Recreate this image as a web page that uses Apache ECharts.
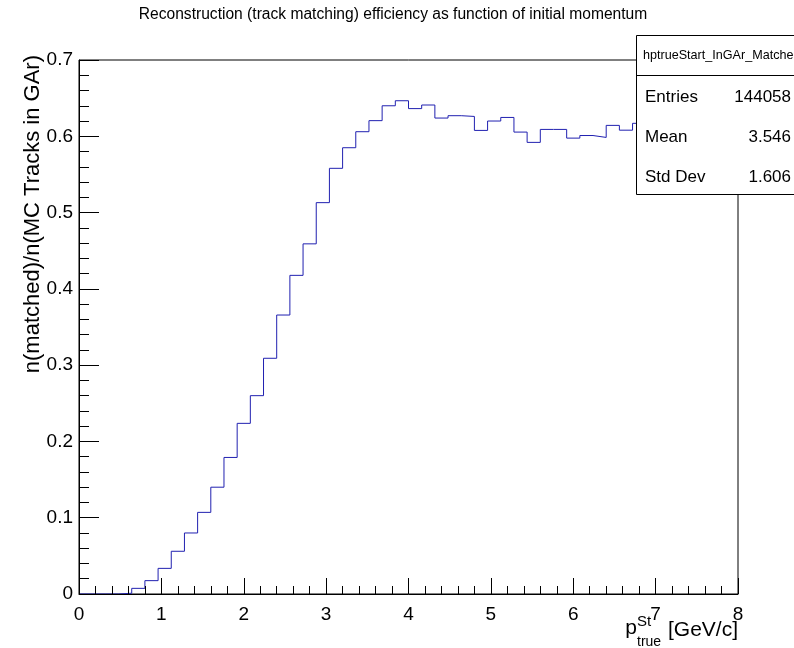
<!DOCTYPE html>
<html>
<head>
<meta charset="utf-8">
<script src="https://cdn.jsdelivr.net/npm/echarts@6/dist/echarts.min.js"></script>
<style>
html,body{margin:0;padding:0;background:#fff;}
#chart{width:794px;height:648px;}
</style>
</head>
<body>
<div id="chart"></div>
<script>
// Histogram: 50 bins over 0..8 GeV/c (bin width 0.16)
var binLow = 0;
var binWidth = 0.16;
var efficiency = [
  0, 0, 0, 0.001, 0.0074, 0.0175, 0.0336, 0.056, 0.080, 0.107,
  0.140, 0.179, 0.2237, 0.260, 0.309, 0.3657, 0.4177, 0.459, 0.513, 0.558,
  0.585, 0.606, 0.6205, 0.640, 0.6466, 0.6363, 0.641, 0.6239, 0.627, 0.626,
  0.6077, 0.620, 0.6247, 0.6055, 0.592, 0.609, 0.609, 0.5976, 0.601, 0.5985,
  0.6143, 0.608, 0.617, 0.612, 0.622, 0.618, 0.626, 0.620, 0.628, 0.624
];
var xTicks = [0, 1, 2, 3, 4, 5, 6, 7, 8];
var yTicks = [0, 0.1, 0.2, 0.3, 0.4, 0.5, 0.6, 0.7];
var titleText = 'Reconstruction (track matching) efficiency as function of initial momentum';
var yTitle = 'n(matched)/n(MC Tracks in GAr)';
var statsName = 'hptrueStart_InGAr_Matched';
var statsLabels = ['Entries', 'Mean', 'Std Dev'];
var statsValues = ['144058', '3.546', '1.606'];

var FONT = "'Liberation Sans', Arial, Helvetica, sans-serif";

// step line points: left edge of each bin, plus final right edge
var stepData = efficiency.map(function (v, i) { return [binLow + i * binWidth, v]; });
stepData.push([binLow + efficiency.length * binWidth, efficiency[efficiency.length - 1]]);

var chart = echarts.init(document.getElementById('chart'), null, {renderer: 'canvas'});

var statsGraphics = [
  {type: 'rect', z: 100, shape: {x: 636.5, y: 35.5, width: 200, height: 159},
   style: {fill: '#fff', stroke: '#000', lineWidth: 1}},
  {type: 'line', z: 101, shape: {x1: 636.5, y1: 75.5, x2: 800, y2: 75.5},
   style: {stroke: '#000', lineWidth: 1}},
  {type: 'text', z: 102, x: 643, y: 56,
   style: {text: statsName, font: '12.6px ' + FONT, fill: '#000', verticalAlign: 'middle', align: 'left'}}
];
var rowsY = [97, 137, 177];
statsLabels.forEach(function (lab, i) {
  statsGraphics.push({type: 'text', z: 102, x: 645, y: rowsY[i],
    style: {text: lab, font: '17px ' + FONT, fill: '#000', verticalAlign: 'middle', align: 'left'}});
  statsGraphics.push({type: 'text', z: 102, x: 791, y: rowsY[i],
    style: {text: statsValues[i], font: '17px ' + FONT, fill: '#000', verticalAlign: 'middle', align: 'right'}});
});

var option = {
  animation: false,
  backgroundColor: '#fff',
  grid: {left: 79, top: 60, right: 56, bottom: 54, show: true, borderColor: '#000', borderWidth: 1, backgroundColor: 'transparent'},
  xAxis: {
    type: 'value', min: xTicks[0], max: xTicks[xTicks.length - 1], interval: 1, z: 5,
    axisLine: {show: true, onZero: false, lineStyle: {color: '#000', width: 1}},
    axisTick: {show: true, inside: true, length: 16, lineStyle: {color: '#000'}},
    minorTick: {show: true, splitNumber: 5, length: 8, lineStyle: {color: '#000'}},
    splitLine: {show: false},
    axisLabel: {color: '#000', fontSize: 19, fontFamily: FONT, margin: 11, showMinLabel: true, showMaxLabel: true}
  },
  yAxis: {
    type: 'value', min: yTicks[0], max: yTicks[yTicks.length - 1], interval: 0.1, z: 5,
    axisLine: {show: true, onZero: false, lineStyle: {color: '#000', width: 1}},
    axisTick: {show: true, inside: true, length: 20, lineStyle: {color: '#000'}},
    minorTick: {show: true, splitNumber: 5, length: 10, lineStyle: {color: '#000'}},
    splitLine: {show: false},
    axisLabel: {color: '#000', fontSize: 19, fontFamily: FONT, margin: 6, showMinLabel: true, showMaxLabel: true,
      formatter: function (v) { return String(Math.round(v * 10) / 10); }}
  },
  series: [{
    type: 'line', step: 'end', data: stepData, showSymbol: false, symbol: 'none',
    lineStyle: {color: '#2020b0', width: 1}, z: 3, silent: true
  }],
  graphic: [
    {type: 'text', x: 393, y: 15, style: {text: titleText, font: '15.6px ' + FONT, fill: '#000', align: 'center', verticalAlign: 'middle'}},
    {type: 'text', x: 33, y: 55, rotation: Math.PI / 2,
     style: {text: yTitle, font: '22px ' + FONT, fill: '#000', align: 'right', verticalAlign: 'middle'}},
    // x axis title: p^{St}_{true} [GeV/c]
    {type: 'text', x: 637, y: 628, style: {text: 'p', font: '21px ' + FONT, fill: '#000', align: 'right', verticalAlign: 'middle'}},
    {type: 'text', x: 637, y: 622, style: {text: 'St', font: '15px ' + FONT, fill: '#000', align: 'left', verticalAlign: 'middle'}},
    {type: 'text', x: 637, y: 642, style: {text: 'true', font: '14px ' + FONT, fill: '#000', align: 'left', verticalAlign: 'middle'}},
    {type: 'text', x: 738, y: 630, style: {text: '[GeV/c]', font: '21px ' + FONT, fill: '#000', align: 'right', verticalAlign: 'middle'}}
  ].concat(statsGraphics)
};
chart.setOption(option);
</script>
</body>
</html>
